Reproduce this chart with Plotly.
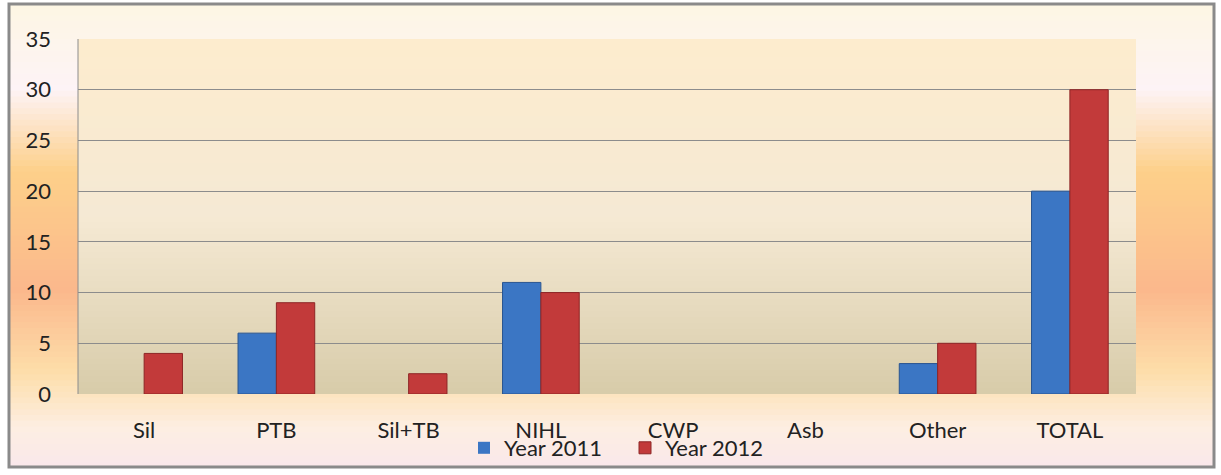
import plotly.graph_objects as go

categories = ["Sil", "PTB", "Sil+TB", "NIHL", "CWP", "Asb", "Other", "TOTAL"]
year_2011 = [0, 6, 0, 11, 0, 0, 3, 20]
year_2012 = [4, 9, 2, 10, 0, 0, 5, 30]

W, H = 1221, 475
L, R, T, B = 78, 85, 39, 81
pw, ph = W - L - R, H - T - B


def px_x(x):
    return (x - L) / pw


def px_y(y):
    return (H - B - y) / ph


def lerp(c1, c2, t):
    return tuple(round(a + (b - a) * t) for a, b in zip(c1, c2))


def gradient(stops, x0, x1, y_top, y_bot, n=80):
    # vertical gradient: each rect runs from its start down to the bottom,
    # later ones paint over, so no seams show between bands
    shapes = []
    for i in range(n):
        t = i / (n - 1)
        col = stops[-1][1]
        for (p0, c0), (p1, c1) in zip(stops[:-1], stops[1:]):
            if p0 <= t <= p1:
                col = lerp(c0, c1, (t - p0) / (p1 - p0))
                break
        ya = y_top + (y_bot - y_top) * i / n
        shapes.append(dict(type="rect", xref="paper", yref="paper", x0=x0, x1=x1,
                           y0=y_bot, y1=ya, line=dict(width=0),
                           fillcolor="rgb(%d,%d,%d)" % col, layer="below"))
    return shapes


outer_stops = [(0.0, (253, 246, 228)), (0.18, (253, 243, 246)), (0.36, (253, 208, 138)),
               (0.62, (251, 184, 140)), (0.80, (253, 222, 170)), (0.92, (253, 238, 226)),
               (1.0, (250, 232, 234))]
inner_stops = [(0.0, (253, 236, 206)), (0.5, (245, 233, 212)), (1.0, (216, 204, 170))]

shapes = []
shapes += gradient(outer_stops, px_x(9), px_x(1214), px_y(4), px_y(467))
shapes += gradient(inner_stops, 0, 1, 1, 0, n=60)
shapes.append(dict(type="rect", xref="paper", yref="paper", x0=px_x(9), x1=px_x(1214),
                   y0=px_y(4), y1=px_y(467), line=dict(color="#8a8a8a", width=3),
                   fillcolor="rgba(0,0,0,0)", layer="below"))
shapes.append(dict(type="line", xref="paper", yref="paper", x0=0, x1=0, y0=0, y1=1,
                   line=dict(color="#8c8c8c", width=1)))

fig = go.Figure()
fig.add_trace(go.Bar(x=categories, y=year_2011, name="Year 2011",
                     marker=dict(color="#3b76c4",
                                 line=dict(color="#2a5590",
                                           width=[1 if v else 0 for v in year_2011]))))
fig.add_trace(go.Bar(x=categories, y=year_2012, name="Year 2012",
                     marker=dict(color="#c23a3a",
                                 line=dict(color="#8e2626",
                                           width=[1 if v else 0 for v in year_2012]))))

font = "Lato, Open Sans, sans-serif"
fig.update_layout(
    width=W, height=H,
    margin=dict(l=L, r=R, t=T, b=B, autoexpand=False),
    paper_bgcolor="white",
    plot_bgcolor="rgba(0,0,0,0)",
    barmode="group",
    bargap=0.42,
    bargroupgap=0,
    shapes=shapes,
    font=dict(family=font, color="#222222", size=22),
    showlegend=True,
    legend=dict(orientation="h", x=px_x(464), xanchor="left", y=px_y(448), yanchor="middle",
                font=dict(size=22, family=font), bgcolor="rgba(0,0,0,0)",
                itemwidth=30, entrywidth=116, tracegroupgap=0),
    xaxis=dict(showgrid=False, showline=False, zeroline=False, ticks="",
               tickfont=dict(size=22), ticklabelstandoff=21, automargin=False),
    yaxis=dict(range=[0, 35], dtick=5, showgrid=True, gridcolor="#8c8c8c", gridwidth=1,
               zeroline=False, showline=False, ticks="", tickfont=dict(size=22),
               ticklabelstandoff=26, automargin=False),
)

fig.write_html("out.html", config={"displayModeBar": False},
               post_script="document.body.style.margin='0';")
